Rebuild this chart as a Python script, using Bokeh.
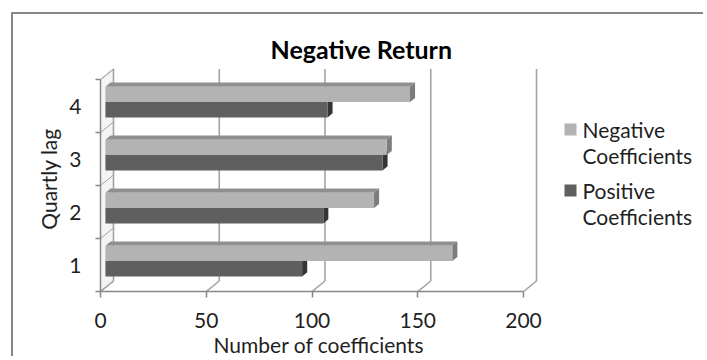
from bokeh.plotting import figure
from bokeh.models import Range1d, FixedTicker, Title
from bokeh.core.properties import value
from bokeh.embed import file_html
from bokeh.resources import INLINE

# ---- data ----
categories = [1, 2, 3, 4]
cat_labels = ["1", "2", "3", "4"]
negative = [164, 127, 133, 144]   # Negative Coefficients
positive = [93, 103, 131, 105]    # Positive Coefficients
x_ticks = [0, 50, 100, 150, 200]
series_names = ["Negative\nCoefficients", "Positive\nCoefficients"]
title_text = "Negative  Return"
x_title = "Number of coefficients"
y_title = "Quartly lag"

# ---- layout (page px) ----
OX, OY = 13, 14            # canvas origin on page (after margin + border)
W, H = 692, 344
FRAME_L, FRAME_T, FRAME_B = 100, 66, 291   # page px
ML = FRAME_L - OX
MT = FRAME_T - OY
MB = (OY + H) - FRAME_B
MR = 0
FW = W - ML - MR
FH = H - MT - MB
PX_X = 2.115
PX_Y = 53.0
XMAX = FW / PX_X
YMIN = 0.5
YMAX = YMIN + FH / PX_Y
DX = 13 / PX_X        # 3D depth offset (data units)
DY = 10.5 / PX_Y
FONT = "Lato"
TXT = "#1f1f1f"
AX = "#868686"
GRID = "#a3a3a3"


def px2x(px):  # page px -> data x
    return (px - FRAME_L) / PX_X


def py2y(py):  # page px -> data y
    return YMIN + (FRAME_B - py) / PX_Y


p = figure(width=W, height=H, x_range=Range1d(0, XMAX), y_range=Range1d(YMIN, YMAX),
           output_backend="svg", toolbar_location=None,
           min_border_left=ML, min_border_right=MR, min_border_top=MT, min_border_bottom=MB)
p.margin = (OY - 2, 0, 0, OX - 2)
p.styles = {"border-left": "2px solid #868686", "border-top": "2px solid #868686"}
p.outline_line_color = None
p.xgrid.visible = False
p.ygrid.visible = False
p.background_fill_color = "white"
p.border_fill_color = "white"

# title
p.title.text = title_text
p.title.align = "left"
p.title.offset = 270 - FRAME_L
p.title.text_font = FONT
p.title.text_font_size = "25px"
p.title.text_font_style = "bold"
p.title.text_color = "#000000"
p.title.standoff = 6

# x axis
xa = p.xaxis[0]
xa.ticker = FixedTicker(ticks=x_ticks)
xa.bounds = (0, 200)
xa.axis_line_color = AX
xa.axis_line_width = 1.5
xa.major_tick_line_color = AX
xa.major_tick_line_width = 1.5
xa.major_tick_out = 6
xa.major_tick_in = 0
xa.minor_tick_line_color = None
xa.major_label_standoff = 15
xa.major_label_text_font = FONT
xa.major_label_text_font_size = "21px"
xa.major_label_text_color = TXT

p.add_layout(Title(text=x_title, align="left", offset=213 - FRAME_L,
                   text_font=FONT, text_font_size="21px", text_font_style="normal",
                   text_color=TXT, standoff=-2), "below")

# y axis
ya = p.yaxis[0]
ya.ticker = FixedTicker(ticks=categories, minor_ticks=[0.5, 1.5, 2.5, 3.5, 4.5])
ya.major_label_overrides = {c: l for c, l in zip(categories, cat_labels)}
ya.bounds = (0.5, 4.5)
ya.axis_line_color = AX
ya.axis_line_width = 1.5
ya.major_tick_line_color = None
ya.major_tick_out = 0
ya.major_tick_in = 0
ya.minor_tick_line_color = AX
ya.minor_tick_line_width = 1.5
ya.minor_tick_out = 5
ya.minor_tick_in = 0
ya.major_label_standoff = 14
ya.major_label_text_font = FONT
ya.major_label_text_font_size = "21px"
ya.major_label_text_color = TXT
ya.axis_label = y_title
ya.axis_label_text_font = FONT
ya.axis_label_text_font_size = "21px"
ya.axis_label_text_font_style = "normal"
ya.axis_label_text_color = TXT
ya.axis_label_standoff = 5

# ---- 3D walls ----
p.patch(x=[0, 0, DX, DX], y=[0.5, 4.5, 4.5 + DY, 0.5 + DY],
        fill_color="#f4f4f4", line_color=GRID, line_width=1)
bounds_c = [0.5, 1.5, 2.5, 3.5, 4.5]
p.segment(x0=[0] * len(bounds_c), y0=bounds_c, x1=[DX] * len(bounds_c),
          y1=[b + DY for b in bounds_c], line_color=GRID, line_width=1)
p.segment(x0=[t + DX for t in x_ticks], y0=[0.5 + DY] * len(x_ticks),
          x1=[t + DX for t in x_ticks], y1=[4.5 + DY] * len(x_ticks),
          line_color=GRID, line_width=1.6)
p.segment(x0=x_ticks, y0=[0.5] * len(x_ticks), x1=[t + DX for t in x_ticks],
          y1=[0.5 + DY] * len(x_ticks), line_color=GRID, line_width=1.6)

# ---- 3D bars ----
BAR_H = 0.29
Z0, Z1 = 0.38, 0.77


def draw_bars(vals, off, front, top, end):
    L, R, B, T = [], [], [], []
    txs, tys, exs, eys = [], [], [], []
    for c, v in zip(categories, vals):
        b = c + off
        t = b + BAR_H
        l0, r0, b0, t0 = Z0 * DX, v + Z0 * DX, b + Z0 * DY, t + Z0 * DY
        l1, r1, b1, t1 = Z1 * DX, v + Z1 * DX, b + Z1 * DY, t + Z1 * DY
        txs.append([l0, r0, r1, l1]); tys.append([t0, t0, t1, t1])
        exs.append([r0, r1, r1, r0]); eys.append([b0, b1, t1, t0])
        L.append(l0); R.append(r0); B.append(b0); T.append(t0)
    p.patches(xs=txs, ys=tys, fill_color=top, line_color=None)
    p.patches(xs=exs, ys=eys, fill_color=end, line_color=None)
    p.quad(left=L, right=R, bottom=B, top=T, fill_color=front, line_color=None)


NEG_C = ("#b3b3b3", "#8f8f8f", "#7c7c7c")
POS_C = ("#5f5f5f", "#4a4a4a", "#353535")
draw_bars(positive, -BAR_H, *POS_C)
draw_bars(negative, 0.0, *NEG_C)

# ---- legend (drawn in the frame's right part) ----
leg_colors = [NEG_C[0], POS_C[0]]
leg_rows = [129, 190]
p.rect(x=[px2x(570)] * 2, y=[py2y(r) for r in leg_rows], width=12, height=12,
       width_units="screen", height_units="screen", fill_color=leg_colors, line_color=None)
tx, ty, tt = [], [], []
for name, r in zip(series_names, leg_rows):
    for i, line in enumerate(name.split("\n")):
        tx.append(px2x(582)); ty.append(py2y(r + 26 * i)); tt.append(line)
p.text(x=tx, y=ty, text=tt, text_align="left", text_baseline="middle",
       text_font=value(FONT), text_font_size="21px", text_color=TXT)

open("out.html", "w").write(file_html(p, INLINE))
